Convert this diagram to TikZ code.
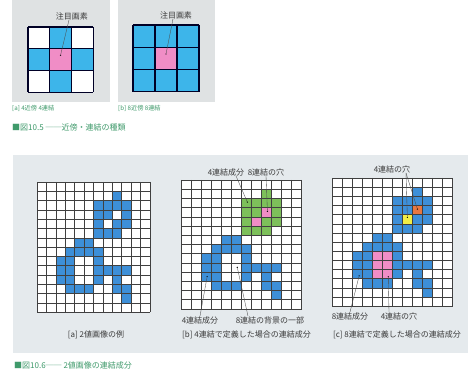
\documentclass[tikz,border=0pt]{standalone}
\usepackage{fontspec}
\setmainfont{Noto Sans CJK JP}
\definecolor{pixblue}{HTML}{3D8FD8}
\definecolor{pixcyan}{HTML}{3DB5EA}
\definecolor{pixgreen}{HTML}{7DC05A}
\definecolor{pixpink}{HTML}{F08DC6}
\definecolor{pixorange}{HTML}{E9773F}
\definecolor{pixyellow}{HTML}{F2EE45}
\definecolor{panelgray}{HTML}{DFE2E3}
\definecolor{panellow}{HTML}{E5EAED}
\definecolor{capgreen}{HTML}{3F9A6B}
\definecolor{lblgray}{HTML}{3A3A3A}
\def\upperpix{8/1,6/2,7/2,8/2,9/2,6/3,7/3,9/3,6/4,8/4,9/4,6/5,7/5,8/5}
\def\lowerpix{4/6,5/6,3/7,4/7,5/7,6/7,2/8,3/8,6/8,2/9,3/9,6/9,7/9,8/9,9/9,2/10,3/10,6/10,8/10,3/11,4/11,5/11,8/11,9/11,9/12}
\tikzset{
  gridln/.style={draw=black!75, line width=0.45pt},
  thickgrid/.style={draw=black!85!blue, line width=1.1pt},
  lbl/.style={font=\fontsize{8}{9}\selectfont, text=lblgray, inner sep=0pt},
  smalllbl/.style={font=\fontsize{6.2}{7}\selectfont, text=capgreen, inner sep=0pt, anchor=west},
  figcap/.style={font=\fontsize{8}{9}\selectfont, text=capgreen, inner sep=0pt, anchor=west},
  leader/.style={draw=black!70, line width=0.35pt},
  dotmark/.style={circle, fill=black, inner sep=0pt, minimum size=1.4pt}
}
\begin{document}
\begin{tikzpicture}[x=1pt,y=-1pt]
\useasboundingbox (0,0) rectangle (475,371);
\fill[white] (0,0) rectangle (475,371);

% ---------- Figure 10.5 ----------
\fill[panelgray] (12,0) rectangle (110,102);
\fill[panelgray] (118,0) rectangle (215,102);

\begin{scope}[shift={(28,27)}, x=21.7pt, y=-21.7pt]
  \fill[white] (0,0) rectangle (3,3);
  \foreach \c/\r in {1/0,0/1,2/1,1/2} \fill[pixcyan] (\c,\r) rectangle +(1,1);
  \fill[pixpink] (1,1) rectangle (2,2);
  \foreach \i in {0,...,3} {\draw[thickgrid] (\i,0) -- (\i,3); \draw[thickgrid] (0,\i) -- (3,\i);}
  \node[dotmark] (dta) at (1.5,1.3) {};
\end{scope}
\begin{scope}[shift={(133,25)}, x=22pt, y=-22.3pt]
  \fill[pixcyan] (0,0) rectangle (3,3);
  \fill[pixpink] (1,1) rectangle (2,2);
  \foreach \i in {0,...,3} {\draw[thickgrid] (\i,0) -- (\i,3); \draw[thickgrid] (0,\i) -- (3,\i);}
  \node[dotmark] (dtb) at (1.5,1.3) {};
\end{scope}
\node[lbl] (ta) at (72,16) {注目画素};
\node[lbl] (tb) at (176,15) {注目画素};
\draw[leader] ([xshift=-3pt]ta.south) -- (dta);
\draw[leader] ([xshift=-3pt]tb.south) -- (dtb);
\node[smalllbl] (ca) at (12,108) {[a] 4近傍 4連結};
\node[smalllbl] (cb) at (118,108) {[b] 8近傍 8連結};
\node[figcap] (f105) at (12,127) {■図10.5 ──近傍・連結の種類};

% ---------- Figure 10.6 ----------
\fill[panellow] (13,155) rectangle (468,353);

% grid (a)
\begin{scope}[shift={(37,182)}, x=9.4pt, y=-9.3pt]
  \fill[white] (0,0) rectangle (12,14);
  \foreach \c/\r in \upperpix \fill[pixblue] (\c,\r) rectangle +(1,1);
  \foreach \c/\r in \lowerpix \fill[pixblue] (\c,\r) rectangle +(1,1);
  \foreach \i in {0,...,12} \draw[gridln] (\i,0) -- (\i,14);
  \foreach \j in {0,...,14} \draw[gridln] (0,\j) -- (12,\j);
\end{scope}

% grid (b)
\begin{scope}[shift={(181,180)}, x=10.05pt, y=-9.2pt]
  \fill[white] (0,0) rectangle (12,14);
  \foreach \c/\r in \upperpix \fill[pixgreen] (\c,\r) rectangle +(1,1);
  \foreach \c/\r in \lowerpix \fill[pixblue] (\c,\r) rectangle +(1,1);
  \fill[pixpink] (8,3) rectangle +(1,1);
  \fill[pixpink] (7,4) rectangle +(1,1);
  \foreach \i in {0,...,12} \draw[gridln] (\i,0) -- (\i,14);
  \foreach \j in {0,...,14} \draw[gridln] (0,\j) -- (12,\j);
  \node[dotmark] (db1) at (6.6,2.4) {};
  \node[dotmark] (db2) at (8.6,3.4) {};
  \node[dotmark] (db3) at (2.6,10.5) {};
  \node[dotmark] (db4) at (5.6,9.5) {};
\end{scope}

% grid (c)
\begin{scope}[shift={(332,178)}, x=10.05pt, y=-9.15pt]
  \fill[white] (0,0) rectangle (12,14);
  \foreach \c/\r in \upperpix \fill[pixblue] (\c,\r) rectangle +(1,1);
  \foreach \c/\r in \lowerpix \fill[pixblue] (\c,\r) rectangle +(1,1);
  \fill[pixorange] (8,3) rectangle +(1,1);
  \fill[pixyellow] (7,4) rectangle +(1,1);
  \fill[pixpink] (4,8) rectangle (6,11);
  \foreach \i in {0,...,12} \draw[gridln] (\i,0) -- (\i,14);
  \foreach \j in {0,...,14} \draw[gridln] (0,\j) -- (12,\j);
  \node[dotmark] (dc1) at (8.5,3.4) {};
  \node[dotmark] (dc2) at (7.5,4.3) {};
  \node[dotmark] (dc3) at (2.7,10.7) {};
  \node[dotmark] (dc4) at (5.6,10.8) {};
\end{scope}

% labels (b)
\node[lbl] (lb1) at (226,172) {4連結成分};
\node[lbl] (lb2) at (266,172) {8連結の穴};
\node[lbl] (lb3) at (200,320) {4連結成分};
\node[lbl] (lb4) at (270,320) {8連結の背景の一部};
\draw[leader] ([xshift=10pt]lb1.south) -- (db1);
\draw[leader] (lb2.south) -- (db2);
\draw[leader] (lb3.north) -- (db3);
\draw[leader] ([xshift=-22pt]lb4.north) -- (db4);

% labels (c)
\node[lbl] (lc1) at (392,169) {4連結の穴};
\node[lbl] (lc2) at (350,316) {8連結成分};
\node[lbl] (lc3) at (399,316) {4連結の穴};
\coordinate (lc1f) at ([xshift=14pt]lc1.south);
\draw[leader] (lc1f) -- (dc1);
\draw[leader] (lc1f) -- (dc2);
\draw[leader] (lc2.north) -- (dc3);
\draw[leader] ([xshift=-10pt]lc3.north) -- (dc4);

% captions
\node[lbl] (capa) at (96,335) {[a] 2値画像の例};
\node[lbl, anchor=west] (capb) at (182,335) {[b] 4連結で定義した場合の連結成分};
\node[lbl, anchor=west] (capc) at (333,335) {[c] 8連結で定義した場合の連結成分};
\node[figcap] (f106) at (14,365) {■図10.6── 2値画像の連結成分};
\end{tikzpicture}
\end{document}
